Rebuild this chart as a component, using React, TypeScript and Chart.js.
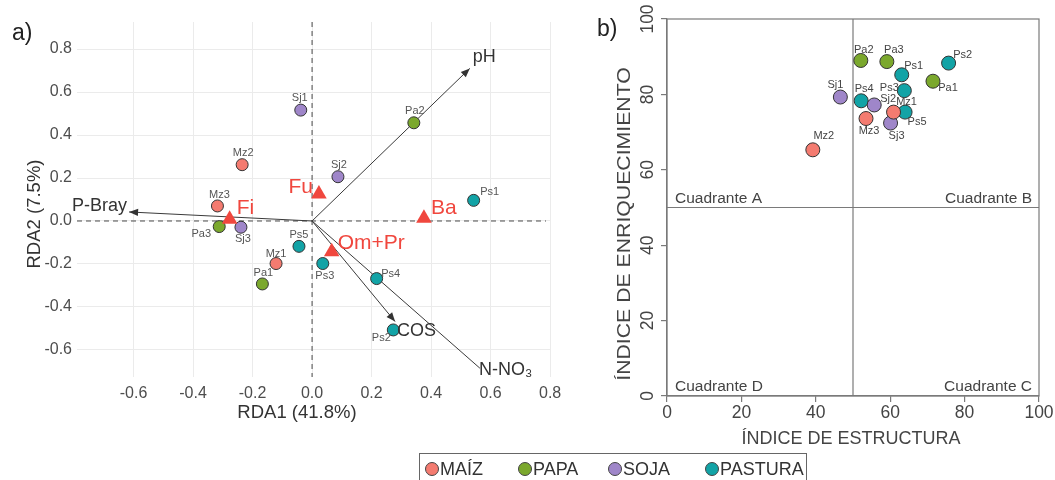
import React, { useEffect, useRef } from "react";
import { Chart, registerables } from "chart.js";

Chart.register(...registerables);

const FONT = "'Liberation Sans', Arial, Helvetica, sans-serif";

// ---------- DATA ----------
const groupNames = ["MAÍZ", "PAPA", "SOJA", "PASTURA"];
const groupColors = ["#F47B70", "#7BA82D", "#9F86C9", "#12A3A6"];

const sampleIds = ["Mz1", "Mz2", "Mz3", "Pa1", "Pa2", "Pa3", "Sj1", "Sj2", "Sj3", "Ps1", "Ps2", "Ps3", "Ps4", "Ps5"];
const sampleGroup = [0, 0, 0, 1, 1, 1, 2, 2, 2, 3, 3, 3, 3, 3];

// panel a) RDA site scores
const rda1 = [-0.121, -0.235, -0.318, -0.167, 0.342, -0.312, -0.038, 0.087, -0.239, 0.543, 0.273, 0.036, 0.217, -0.044];
const rda2 = [-0.198, 0.262, 0.07, -0.293, 0.457, -0.026, 0.516, 0.206, -0.029, 0.096, -0.507, -0.198, -0.268, -0.118];

// environmental vectors
const envVars = ["pH", "P-Bray", "COS", "N-NO₃"];
const envRda1 = [0.53, -0.615, 0.279, 0.564];
const envRda2 = [0.71, 0.042, -0.468, -0.685];

// trophic groups (triangles)
const taxa = ["Fu", "Fi", "Ba", "Om+Pr"];
const taxaRda1 = [0.023, -0.277, 0.376, 0.066];
const taxaRda2 = [0.126, 0.008, 0.013, -0.143];

// panel b) indices
const indiceEstructura = [60.9, 39.2, 53.5, 71.5, 52.1, 59.1, 46.6, 55.7, 60.1, 63.1, 75.7, 63.8, 52.2, 64.0];
const indiceEnriquecimiento = [75.3, 65.3, 73.6, 83.5, 89.0, 88.7, 79.3, 77.2, 72.4, 85.2, 88.3, 81.0, 78.3, 75.3];

const rdaXRange = [-0.79, 0.803];
const rdaYRange = [-0.726, 0.926];
const rdaStep = 0.2;
const indexTicks = [0, 20, 40, 60, 80, 100];
const quadrantCut = 50;
const quadrantLabels = ["Cuadrante A", "Cuadrante B", "Cuadrante C", "Cuadrante D"];

// ---------- LAYOUT (label offsets in px) ----------
const labelOffsetA = [[0, -10], [1, -12], [2, -11], [1, -11], [1, -12], [-18, 7], [-1, -12], [1, -12], [2, 12], [16, -8], [-12, 8], [2, 12], [14, -5], [0, -11]];
const labelOffsetB = [[13, -10], [11, -14], [3, 12], [15, 7], [3, -11], [7, -12], [-5, -12], [14, -6], [6, 13], [12, -9], [14, -8], [-15, -3], [3, -12], [12, 10]];
const envLabelPos: [number, number, string][] = [[3, -11, "left"], [-2, -6, "right"], [2, 9, "left"], [-1, 2, "left"]];
const envArrowHead = [true, true, true, false];
const taxaLabelPos: [number, number, string][] = [[-6, -7, "right"], [7, -11, "left"], [7, -10, "left"], [6, -9, "left"]];

function fmt1(v: number) {
  const r = Math.round(v * 10) / 10;
  return (Math.abs(r) < 1e-9 ? 0 : r).toFixed(1);
}

function txt(ctx: any, s: string, x: number, y: number, o: any) {
  ctx.save();
  ctx.font = `${o.size}px ${FONT}`;
  ctx.fillStyle = o.color || "#333";
  ctx.textAlign = o.align || "center";
  ctx.textBaseline = "middle";
  ctx.translate(x, y);
  if (o.rotate) ctx.rotate(o.rotate);
  if (o.stretch) ctx.scale(o.stretch, 1);
  ctx.fillText(s, 0, 0);
  ctx.restore();
}

const rdaPlugin = {
  id: "rdaDecor",
  beforeDatasetsDraw(chart: any) {
    const { ctx, chartArea, scales } = chart;
    const x0 = scales.x.getPixelForValue(0);
    const y0 = scales.y.getPixelForValue(0);
    ctx.save();
    ctx.strokeStyle = "#4a4a4a";
    ctx.lineWidth = 1;
    ctx.setLineDash([5, 4]);
    ctx.beginPath();
    ctx.moveTo(x0, chartArea.top);
    ctx.lineTo(x0, chartArea.bottom);
    ctx.moveTo(chartArea.left, y0);
    ctx.lineTo(chartArea.right - 5, y0);
    ctx.stroke();
    ctx.restore();
  },
  afterDatasetDraw(chart: any, args: any) {
    const ds = chart.data.datasets[args.index];
    if (ds.arrowIndex === undefined || !envArrowHead[ds.arrowIndex]) return;
    const meta = chart.getDatasetMeta(args.index);
    const p0 = meta.data[0];
    const p1 = meta.data[1];
    const ang = Math.atan2(p1.y - p0.y, p1.x - p0.x);
    const { ctx } = chart;
    const len = 9;
    const hw = 3.6;
    ctx.save();
    ctx.fillStyle = "#333";
    ctx.translate(p1.x, p1.y);
    ctx.rotate(ang);
    ctx.beginPath();
    ctx.moveTo(0, 0);
    ctx.lineTo(-len, -hw);
    ctx.lineTo(-len, hw);
    ctx.closePath();
    ctx.fill();
    ctx.restore();
  },
  afterDatasetsDraw(chart: any) {
    const { ctx, scales } = chart;
    const xs = scales.x;
    const ys = scales.y;
    sampleIds.forEach((id, i) => {
      const px = xs.getPixelForValue(rda1[i]) + labelOffsetA[i][0];
      const py = ys.getPixelForValue(rda2[i]) + labelOffsetA[i][1];
      txt(ctx, id, px, py, { size: 11, color: "#555" });
    });
    envVars.forEach((v, i) => {
      const [dx, dy, al] = envLabelPos[i];
      txt(ctx, v, xs.getPixelForValue(envRda1[i]) + dx, ys.getPixelForValue(envRda2[i]) + dy, { size: 18, color: "#333", align: al });
    });
    taxa.forEach((t, i) => {
      const [dx, dy, al] = taxaLabelPos[i];
      txt(ctx, t, xs.getPixelForValue(taxaRda1[i]) + dx, ys.getPixelForValue(taxaRda2[i]) + dy, { size: 21, color: "#F0473E", align: al });
    });
  },
  afterDraw(chart: any) {
    const { ctx } = chart;
    txt(ctx, "a)", 12, 34, { size: 23, color: "#222", align: "left" });
    txt(ctx, "RDA1 (41.8%)", 297, 413, { size: 18.5, color: "#333" });
    txt(ctx, "RDA2 (7.5%)", 35, 214, { size: 18.5, color: "#333", rotate: -Math.PI / 2 });
  },
};

const indexPlugin = {
  id: "indexDecor",
  afterDatasetsDraw(chart: any) {
    const { ctx, chartArea, scales } = chart;
    const { left, right, top, bottom } = chartArea;
    const xs = scales.x;
    const ys = scales.y;
    ctx.save();
    ctx.strokeStyle = "#7a7a7a";
    ctx.lineWidth = 1.2;
    ctx.strokeRect(left, top, right - left, bottom - top);
    ctx.restore();
    const yc = ys.getPixelForValue(quadrantCut);
    const qs = { size: 15.5, color: "#444" };
    txt(ctx, quadrantLabels[0], left + 8, yc - 9, { ...qs, align: "left" });
    txt(ctx, quadrantLabels[1], right - 7, yc - 9, { ...qs, align: "right" });
    txt(ctx, quadrantLabels[2], right - 7, bottom - 9, { ...qs, align: "right" });
    txt(ctx, quadrantLabels[3], left + 8, bottom - 9, { ...qs, align: "left" });
    indexTicks.forEach((v) => {
      txt(ctx, String(v), 58, ys.getPixelForValue(v), { size: 17.5, color: "#444", rotate: -Math.PI / 2 });
    });
    sampleIds.forEach((id, i) => {
      const px = xs.getPixelForValue(indiceEstructura[i]) + labelOffsetB[i][0];
      const py = ys.getPixelForValue(indiceEnriquecimiento[i]) + labelOffsetB[i][1];
      txt(ctx, id, px, py, { size: 11, color: "#444" });
    });
  },
  afterDraw(chart: any) {
    const { ctx } = chart;
    txt(ctx, "b)", 7, 30, { size: 23, color: "#222", align: "left" });
    txt(ctx, "ÍNDICE DE ESTRUCTURA", 261, 439, { size: 18, color: "#444" });
    txt(ctx, "ÍNDICE DE ENRIQUECIMIENTO", 35, 224, { size: 18, color: "#444", rotate: -Math.PI / 2, stretch: 1.18 });
  },
};

function groupData(gi: number, xs: number[], ys: number[]) {
  const out: any[] = [];
  sampleIds.forEach((id, i) => {
    if (sampleGroup[i] === gi) out.push({ x: xs[i], y: ys[i], id });
  });
  return out;
}

export default function App() {
  const refA = useRef<HTMLCanvasElement>(null);
  const refB = useRef<HTMLCanvasElement>(null);

  useEffect(() => {
    const tickFontA = { family: FONT, size: 16 };
    const chartA = new Chart(refA.current as HTMLCanvasElement, {
      type: "scatter",
      data: {
        datasets: [
          ...envVars.map((v, i) => ({
            label: v,
            arrowIndex: i,
            data: [{ x: 0, y: 0 }, { x: envRda1[i], y: envRda2[i] }],
            showLine: true,
            borderColor: "#3a3a3a",
            borderWidth: 1,
            pointRadius: 0,
            order: 2,
          })),
          {
            label: "taxa",
            data: taxa.map((t, i) => ({ x: taxaRda1[i], y: taxaRda2[i] })),
            pointStyle: "triangle",
            pointRadius: 9,
            backgroundColor: "#F0473E",
            borderColor: "#F0473E",
            borderWidth: 0,
            order: 0,
          },
          ...groupNames.map((g, gi) => ({
            label: g,
            data: groupData(gi, rda1, rda2),
            backgroundColor: groupColors[gi],
            borderColor: "#333",
            borderWidth: 1,
            pointRadius: 6,
            order: 1,
          })),
        ] as any,
      },
      options: {
        responsive: false,
        maintainAspectRatio: false,
        animation: false,
        events: [],
        layout: { padding: { left: 0, top: 22, right: 24, bottom: 0 } },
        plugins: { legend: { display: false }, tooltip: { enabled: false } },
        scales: {
          x: {
            type: "linear",
            min: rdaXRange[0],
            max: rdaXRange[1],
            border: { display: false },
            grid: { color: "#ebebeb", lineWidth: 1, drawTicks: false },
            ticks: { stepSize: rdaStep, includeBounds: false, autoSkip: false, maxRotation: 0, padding: 7, color: "#4d4d4d", font: tickFontA, callback: (v: any) => fmt1(Number(v)) },
            afterFit: (s: any) => { s.height = 63; },
          },
          y: {
            type: "linear",
            min: rdaYRange[0],
            max: rdaYRange[1],
            border: { display: false },
            grid: { color: "#ebebeb", lineWidth: 1, drawTicks: false },
            ticks: { stepSize: rdaStep, includeBounds: false, autoSkip: false, padding: 5, color: "#4d4d4d", font: tickFontA, callback: (v: any) => fmt1(Number(v)) },
            afterFit: (s: any) => { s.width = 77; },
          },
        } as any,
      },
      plugins: [rdaPlugin as any],
    });

    const axisB = {
      type: "linear",
      min: 0,
      max: 100,
      border: { display: true, color: "#7a7a7a", width: 1.2 },
      grid: { drawOnChartArea: false, drawTicks: true, tickLength: 6, color: "#7a7a7a", lineWidth: 1.2 },
    };
    const chartB = new Chart(refB.current as HTMLCanvasElement, {
      type: "scatter",
      data: {
        datasets: [
          {
            label: "cutX",
            data: [{ x: quadrantCut, y: 0 }, { x: quadrantCut, y: 100 }],
            showLine: true,
            borderColor: "#7a7a7a",
            borderWidth: 1.2,
            pointRadius: 0,
            order: 2,
          },
          {
            label: "cutY",
            data: [{ x: 0, y: quadrantCut }, { x: 100, y: quadrantCut }],
            showLine: true,
            borderColor: "#7a7a7a",
            borderWidth: 1.2,
            pointRadius: 0,
            order: 2,
          },
          ...groupNames.map((g, gi) => ({
            label: g,
            data: groupData(gi, indiceEstructura, indiceEnriquecimiento),
            backgroundColor: groupColors[gi],
            borderColor: "#333",
            borderWidth: 1,
            pointRadius: 7,
            order: 1,
          })),
        ] as any,
      },
      options: {
        responsive: false,
        maintainAspectRatio: false,
        animation: false,
        events: [],
        layout: { padding: { left: 0, top: 19, right: 16, bottom: 0 } },
        plugins: { legend: { display: false }, tooltip: { enabled: false } },
        scales: {
          x: {
            ...axisB,
            ticks: { stepSize: 20, autoSkip: false, maxRotation: 0, padding: 1, color: "#444", font: { family: FONT, size: 17.5 } },
            afterFit: (s: any) => { s.height = 64; },
          },
          y: {
            ...axisB,
            ticks: { stepSize: 20, display: false },
            afterFit: (s: any) => { s.width = 77; },
          },
        } as any,
      },
      plugins: [indexPlugin as any],
    });

    return () => {
      chartA.destroy();
      chartB.destroy();
    };
  }, []);

  const legendLefts = [425, 518, 608, 705];

  return (
    <div style={{ position: "fixed", left: 0, top: 0, width: 1055, height: 480, overflow: "hidden", background: "#fff", fontFamily: FONT }}>
      <div style={{ position: "absolute", left: 0, top: 0, width: 575, height: 440 }}>
        <canvas ref={refA} width={575} height={440} style={{ display: "block" }} />
      </div>
      <div style={{ position: "absolute", left: 590, top: 0, width: 465, height: 460 }}>
        <canvas ref={refB} width={465} height={460} style={{ display: "block" }} />
      </div>
      <div style={{ position: "absolute", left: 419, top: 453, width: 388, height: 32, border: "1px solid #666", boxSizing: "border-box" }}>
        {groupNames.map((g, gi) => (
          <div key={g} style={{ position: "absolute", left: legendLefts[gi] - 420, top: 0, height: 30, display: "flex", alignItems: "center" }}>
            <span style={{ width: 14, height: 14, borderRadius: "50%", background: groupColors[gi], border: "1px solid #444", boxSizing: "border-box", display: "inline-block" }} />
            <span style={{ fontSize: 18, color: "#333", marginLeft: 1, lineHeight: "30px" }}>{g}</span>
          </div>
        ))}
      </div>
    </div>
  );
}
